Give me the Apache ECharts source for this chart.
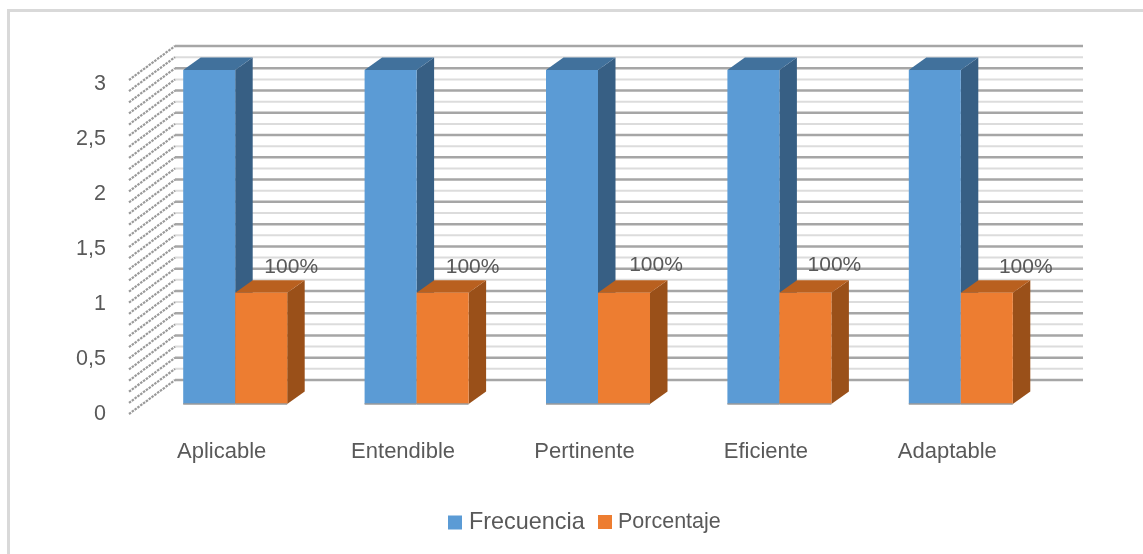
<!DOCTYPE html>
<html>
<head>
<meta charset="utf-8">
<style>
  html, body { margin: 0; padding: 0; background: #fff; }
  #chart { width: 1143px; height: 554px; }
</style>
<script src="https://cdn.jsdelivr.net/npm/echarts@6/dist/echarts.min.js"></script>
</head>
<body>
<div id="chart"></div>
<script>
// Category names and series values
const categories = ['Aplicable', 'Entendible', 'Pertinente', 'Eficiente', 'Adaptable'];
const frecuencia = [3, 3, 3, 3, 3];
const porcentaje = [1, 1, 1, 1, 1];
const porcentajeLabels = ['100%', '100%', '100%', '100%', '100%'];
// Levels of the wall rules: heavy every 0.2, faint in between
const heavyRules = [0, 0.2, 0.4, 0.6, 0.8, 1, 1.2, 1.4, 1.6, 1.8, 2, 2.2, 2.4, 2.6, 2.8, 3];
const faintRules = [0.1, 0.3, 0.5, 0.7, 0.9, 1.1, 1.3, 1.5, 1.7, 1.9, 2.1, 2.3, 2.5, 2.7, 2.9];

const FONT = '"Liberation Sans", Arial, sans-serif';
const TEXT = '#595959';
const BAR_W = 52;               // face width of a column
const BAR_DX = 17.5, BAR_DY = -12.5;   // extrusion of a column
const WALL_DY = -24;            // from column base line to back wall
const SIDE_DY = 10;             // from column base line to the front of the side wall
const labelShiftX = [30, 30, 32, 29, 39];
const labelShiftY = [0, 0, -2, -2, 0];

function backRule(color, width) {
  return function (params, api) {
    const y = api.coord([0, api.value(0)])[1] + WALL_DY;
    return {
      type: 'line', silent: true,
      shape: { x1: 175, y1: y, x2: 1083, y2: y },
      style: { stroke: color, lineWidth: width }
    };
  };
}

function sideHatch(params, api) {
  const y = api.coord([0, api.value(0)])[1];
  return {
    type: 'line', silent: true,
    shape: { x1: 129, y1: y + SIDE_DY, x2: 175, y2: y + WALL_DY },
    style: { stroke: '#9a9a9a', lineWidth: 2.2, lineDash: [2.5, 1] }
  };
}

// Draws an extruded column: side, top and front faces
function column(front, top, side, faceShift) {
  return function (params, api) {
    const i = api.value(0);
    const [cx, y1] = api.coord([i, api.value(1)]);
    const y0 = api.coord([i, 0])[1];
    const x0 = cx + faceShift, x1 = x0 + BAR_W;
    const children = [
      { type: 'polygon', shape: { points: [[x1, y1], [x1 + BAR_DX, y1 + BAR_DY], [x1 + BAR_DX, y0 + BAR_DY], [x1, y0]] }, style: { fill: side } },
      { type: 'polygon', shape: { points: [[x0, y1], [x0 + BAR_DX, y1 + BAR_DY], [x1 + BAR_DX, y1 + BAR_DY], [x1, y1]] }, style: { fill: top } },
      { type: 'rect', shape: { x: x0, y: y1, width: BAR_W, height: y0 - y1 }, style: { fill: front } },
      { type: 'line', shape: { x1: x0, y1: y0, x2: x1, y2: y0 }, style: { stroke: '#9a9a9a', lineWidth: 1.5 } }
    ];
    if (params.seriesName === 'Porcentaje') {
      children.push({
        type: 'text',
        style: {
          x: x0 + BAR_W / 2 + labelShiftX[i],
          y: y1 - 25 + labelShiftY[i],
          text: porcentajeLabels[i],
          fill: TEXT, font: '21px ' + FONT, align: 'center', verticalAlign: 'middle'
        }
      });
    }
    return { type: 'group', silent: true, children };
  };
}

const chart = echarts.init(document.getElementById('chart'), null, { renderer: 'canvas' });
chart.setOption({
  animation: false,
  backgroundColor: '#fff',
  // Frame along the top and left edges
  graphic: [
    { type: 'line', silent: true, shape: { x1: 7, y1: 10.5, x2: 1143, y2: 10.5 }, style: { stroke: '#d9d9d9', lineWidth: 3 } },
    { type: 'line', silent: true, shape: { x1: 8.5, y1: 9, x2: 8.5, y2: 554 }, style: { stroke: '#d9d9d9', lineWidth: 3 } }
  ],
  grid: [
    { left: 144.5, top: 70, width: 907, height: 334 },
    { left: 131, top: 84, width: 907, height: 330 }
  ],
  legend: [
    {
      data: ['Frecuencia'], left: 448, top: 511, padding: 0, icon: 'rect', itemWidth: 14, itemHeight: 14, itemGap: 6,
      textStyle: { color: TEXT, fontFamily: FONT, fontSize: 23.4, padding: [0, 0, 0, 2] }
    },
    {
      data: ['Porcentaje'], left: 598, top: 511, padding: 0, icon: 'rect', itemWidth: 14, itemHeight: 14, itemGap: 6,
      textStyle: { color: TEXT, fontFamily: FONT, fontSize: 21.5, padding: [0, 0, 0, 1] }
    }
  ],
  xAxis: [
    { gridIndex: 0, type: 'category', data: categories, show: false },
    {
      gridIndex: 1, type: 'category', data: categories,
      axisLine: { show: false }, axisTick: { show: false },
      axisLabel: { color: TEXT, fontFamily: FONT, fontSize: 22, margin: 27, interval: 0 }
    }
  ],
  yAxis: [
    { gridIndex: 0, type: 'value', min: 0, max: 3, show: false },
    {
      gridIndex: 1, type: 'value', min: 0, max: 3, interval: 0.5,
      axisLine: { show: false }, axisTick: { show: false }, splitLine: { show: false },
      axisLabel: {
        color: TEXT, fontFamily: FONT, fontSize: 21.5, margin: 25,
        formatter: v => String(v).replace('.', ',')
      }
    }
  ],
  series: [
    { type: 'custom', name: 'faint', data: faintRules.map(v => [v]), renderItem: backRule('#dcdcdc', 2), encode: { y: 0 }, z: 1 },
    { type: 'custom', name: 'heavy', data: heavyRules.map(v => [v]), renderItem: backRule('#a6a6a6', 2.5), encode: { y: 0 }, z: 1 },
    { type: 'custom', name: 'hatchA', data: heavyRules.map(v => [v]), renderItem: sideHatch, encode: { y: 0 }, z: 1 },
    { type: 'custom', name: 'hatchB', data: faintRules.map(v => [v]), renderItem: sideHatch, encode: { y: 0 }, z: 1 },
    {
      type: 'custom', name: 'Frecuencia', data: frecuencia.map((v, i) => [i, v]),
      renderItem: column('#5b9bd5', '#41719c', '#375f84', -BAR_W),
      encode: { x: 0, y: 1 }, itemStyle: { color: '#5b9bd5' }, z: 3
    },
    {
      type: 'custom', name: 'Porcentaje', data: porcentaje.map((v, i) => [i, v]),
      renderItem: column('#ed7d31', '#b9601f', '#9a5019', 0),
      encode: { x: 0, y: 1 }, itemStyle: { color: '#ed7d31' }, z: 4
    }
  ]
});
</script>
</body>
</html>
